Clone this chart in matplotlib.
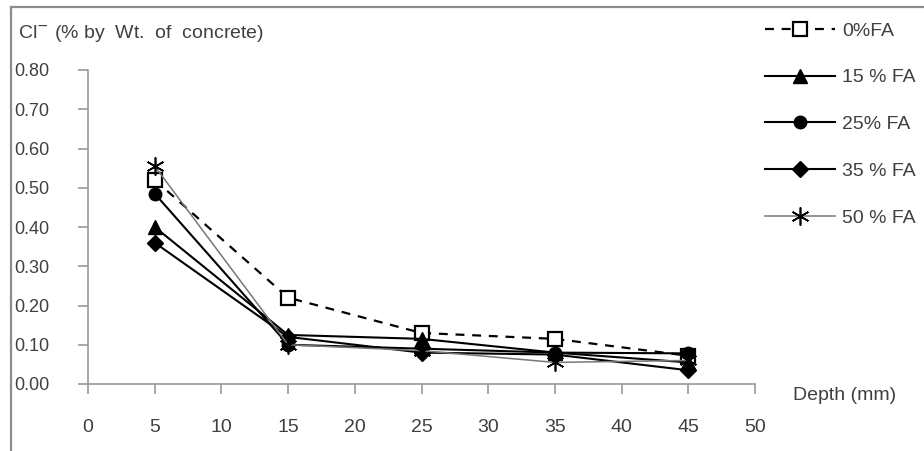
import matplotlib

matplotlib.use("Agg")
import matplotlib.pyplot as plt
from matplotlib.patches import Rectangle

plt.rcParams["font.family"] = ["Liberation Sans", "DejaVu Sans"]

# chloride profile, % by wt. of concrete
depth = [5, 15, 25, 35, 45]
fa0 = [0.52, 0.22, 0.13, 0.115, 0.072]
fa15 = [0.40, 0.125, 0.115, 0.08, 0.055]
fa25 = [0.485, 0.10, 0.09, 0.08, 0.078]
fa35 = [0.36, 0.12, 0.08, 0.075, 0.035]
fa50 = [0.555, 0.10, 0.085, 0.055, 0.06]
labels = ["0%FA", "15 % FA", "25% FA", "35 % FA", "50 % FA"]
xticks = [0, 5, 10, 15, 20, 25, 30, 35, 40, 45, 50]
yticks = [0.0, 0.1, 0.2, 0.3, 0.4, 0.5, 0.6, 0.7, 0.8]

W, H = 924, 451
txt = "#404040"
grey = "#9a9a9a"

fig = plt.figure(figsize=(W / 100, H / 100), dpi=100)
fig.patches.append(Rectangle((11 / W, -0.1), 1.2, 1.1 - 7 / H, transform=fig.transFigure,
                             fill=False, edgecolor="#8c8c8c", linewidth=1.6))

ax = fig.add_axes([88 / W, 1 - 384 / H, (755 - 88) / W, (384 - 70) / H])
ax.set_xlim(0, 50)
ax.set_ylim(0, 0.8)

ax.plot(depth, fa0, color="black", lw=1.6, ls=(0, (4, 3.5)), marker="s", ms=10,
        mfc="white", mec="black", mew=1.6, label=labels[0])
ax.plot(depth, fa15, color="black", lw=1.5, marker="^", ms=10, label=labels[1])
ax.plot(depth, fa25, color="black", lw=1.5, marker="o", ms=9, label=labels[2])
ax.plot(depth, fa35, color="black", lw=1.5, marker="D", ms=8, label=labels[3])
ax.plot(depth, fa50, color="#777777", lw=1.1, marker=(6, 2, 0), ms=13,
        mec="black", mew=1.2, label=labels[4])

for s in ("top", "right"):
    ax.spines[s].set_visible(False)
for s in ("left", "bottom"):
    ax.spines[s].set_color(grey)
    ax.spines[s].set_linewidth(1.2)

ax.set_xticks(xticks)
ax.set_yticks(yticks)
ax.set_yticklabels([f"{v:.2f}" for v in yticks], ha="left")
ax.tick_params(axis="both", direction="out", length=7, width=1.2, color=grey,
               labelcolor=txt)
ax.tick_params(axis="y", pad=46, labelsize=13)
ax.tick_params(axis="x", pad=18, labelsize=14)

fig.text(18 / W, 1 - 33 / H, "Cl$^{-}$ (% by  Wt.  of  concrete)", fontsize=14,
         color=txt, ha="left", va="center")
fig.text(793 / W, 1 - 396 / H, "Depth (mm)", fontsize=14, color=txt,
         ha="left", va="center")

ax.legend(loc="upper left", bbox_to_anchor=(765 / W, 1 - 22 / H),
          bbox_transform=fig.transFigure, frameon=False, fontsize=14,
          handlelength=3.6, handletextpad=0.36, labelspacing=1.5,
          borderpad=0, borderaxespad=0, labelcolor=txt)

fig.savefig("out.png", dpi=100)
